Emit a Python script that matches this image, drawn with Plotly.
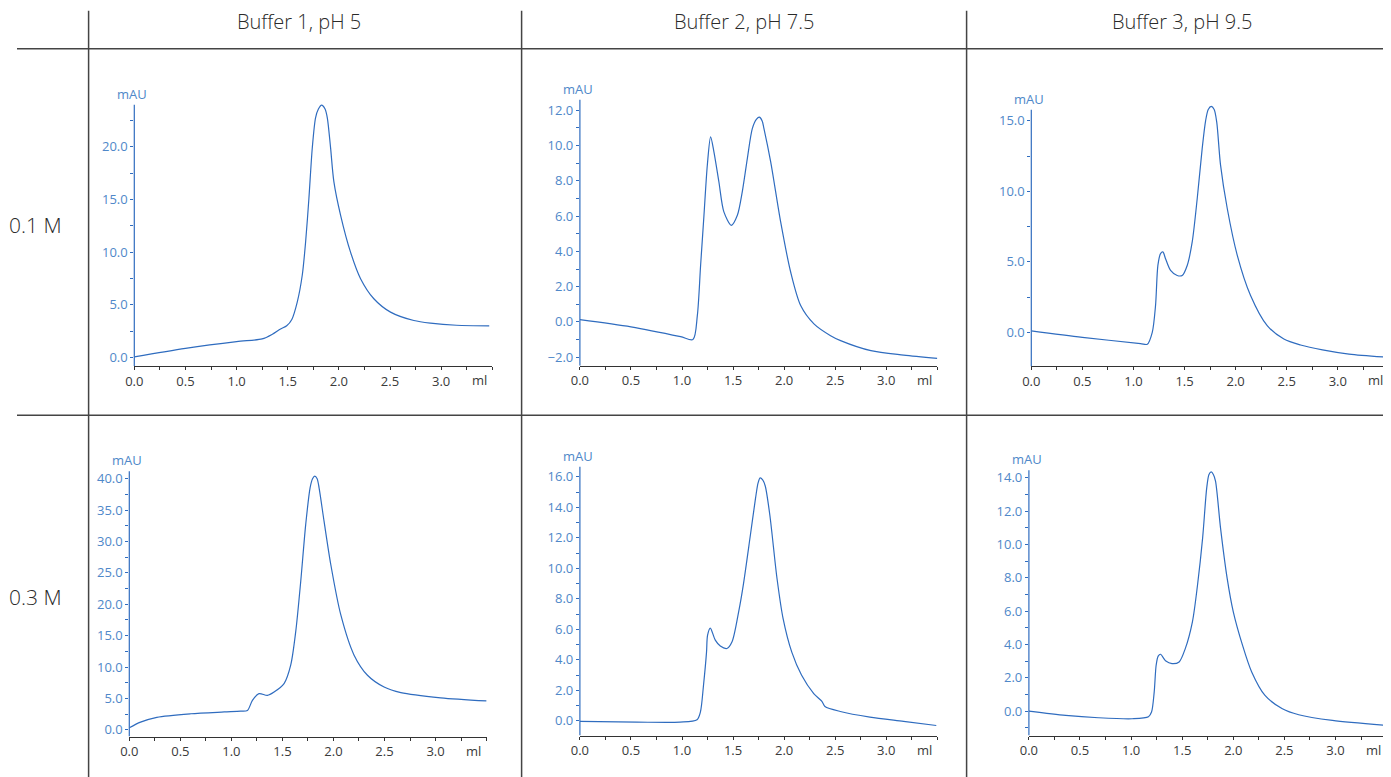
import plotly.graph_objects as go

# target window size and the measured mapping (figure px -> window px)
W, H = 1391, 777
OFFX, OFFY, SCALE = 16.4, 10.3, 0.9935
FW = int(round((W - OFFX) / SCALE))
FH = int(round((H - OFFY) / SCALE))

# ---------------- data ----------------
col_titles = ["Buffer 1, pH 5", "Buffer 2, pH 7.5", "Buffer 3, pH 9.5"]
row_titles = ["0.1 M", "0.3 M"]

# Panel 1: 0.1 M, Buffer 1 pH 5
p1_x = [0.0, 0.5, 1.0, 1.25, 1.35, 1.43, 1.49, 1.54, 1.593, 1.642, 1.675, 1.707, 1.74, 1.772, 1.80,
        1.831, 1.865, 1.887, 1.919, 1.951, 2.017, 2.114, 2.212, 2.342, 2.505, 2.733, 2.896, 3.15, 3.47]
p1_y = [0.05, 0.86, 1.5, 1.75, 2.2, 2.7, 3.0, 3.6, 5.25, 7.8, 10.98, 15.1, 19.9, 22.76, 23.6,
        23.97, 23.6, 22.76, 19.9, 16.7, 13.5, 10.0, 7.48, 5.57, 4.3, 3.5, 3.25, 3.05, 3.0]

# Panel 2: 0.1 M, Buffer 2 pH 7.5
p2_x = [0.0, 0.5, 0.986, 1.107, 1.15, 1.182, 1.215, 1.248, 1.28, 1.312, 1.361, 1.41, 1.483, 1.542,
        1.59, 1.64, 1.689, 1.73, 1.757, 1.785, 1.802, 1.868, 1.966, 2.064, 2.162, 2.292, 2.455, 2.553,
        2.85, 3.17, 3.5]
p2_y = [0.13, -0.28, -0.84, -1.0, 0.36, 3.2, 6.05, 8.9, 10.5, 9.66, 7.95, 6.24, 5.48, 6.05,
        7.38, 9.28, 10.98, 11.5, 11.61, 11.4, 10.98, 9.09, 5.67, 2.83, 0.93, -0.11, -0.78, -1.06,
        -1.63, -1.88, -2.07]

# Panel 3: 0.1 M, Buffer 3 pH 9.5
p3_x = [0.0, 0.5, 1.069, 1.135, 1.184, 1.216, 1.239, 1.265, 1.288, 1.314, 1.363, 1.428, 1.477, 1.526,
        1.575, 1.624, 1.673, 1.706, 1.732, 1.761, 1.79, 1.815, 1.852, 1.918, 2.016, 2.146, 2.309, 2.472,
        2.635, 2.85, 3.11, 3.5]
p3_y = [0.1, -0.36, -0.8, -0.85, 0.0, 1.9, 4.74, 5.58, 5.7, 5.22, 4.39, 4.03, 4.03, 4.74,
        6.41, 9.49, 13.06, 15.0, 15.8, 16.02, 15.8, 14.9, 11.87, 8.78, 5.46, 2.61, 0.47, -0.48,
        -0.9, -1.25, -1.55, -1.78]

# Panel 4: 0.3 M, Buffer 1 pH 5
p4_x = [0.0, 0.11, 0.27, 0.6, 0.93, 1.091, 1.157, 1.206, 1.271, 1.353, 1.418, 1.516, 1.581, 1.63,
        1.679, 1.728, 1.771, 1.795, 1.817, 1.84, 1.859, 1.908, 1.974, 2.072, 2.202, 2.333, 2.496, 2.66,
        3.05, 3.5]
p4_y = [0.32, 1.23, 2.0, 2.56, 2.85, 2.98, 3.09, 4.69, 5.76, 5.49, 6.02, 7.36, 10.3, 15.6,
        23.6, 32.7, 38.56, 40.0, 40.42, 40.0, 38.56, 33.2, 26.3, 18.3, 11.9, 8.7, 6.82, 5.92,
        5.1, 4.6]

# Panel 5: 0.3 M, Buffer 2 pH 7.5
p5_x = [0.0, 0.56, 0.98, 1.147, 1.18, 1.21, 1.24, 1.25, 1.277, 1.326, 1.375, 1.44, 1.49, 1.555, 1.6,
        1.67, 1.72, 1.745, 1.765, 1.79, 1.815, 1.86, 1.93, 1.99, 2.075, 2.17, 2.29, 2.37, 2.4, 2.55,
        2.84, 3.17, 3.49]
p5_y = [-0.04, -0.09, -0.09, 0.07, 0.57, 2.3, 4.5, 5.6, 6.08, 5.29, 4.9, 4.74, 5.18, 7.16, 8.9,
        12.2, 14.6, 15.6, 15.93, 15.8, 15.4, 13.5, 9.35, 6.7, 4.5, 3.0, 1.78, 1.27, 0.94, 0.61,
        0.24, -0.04, -0.31]

# Panel 6: 0.3 M, Buffer 3 pH 9.5
p6_x = [0.0, 0.36, 0.68, 1.01, 1.17, 1.2, 1.226, 1.245, 1.265, 1.288, 1.34, 1.40, 1.47, 1.53, 1.6,
        1.65, 1.7, 1.74, 1.762, 1.784, 1.805, 1.826, 1.875, 1.94, 2.0, 2.09, 2.18, 2.31, 2.48, 2.64,
        2.97, 3.5]
p6_y = [0.0, -0.26, -0.4, -0.46, -0.34, -0.06, 1.14, 2.75, 3.3, 3.41, 3.0, 2.85, 2.95, 3.75, 5.36,
        7.57, 10.4, 13.4, 14.2, 14.36, 14.2, 13.8, 11.0, 7.97, 5.96, 3.96, 2.35, 0.94, 0.14, -0.22,
        -0.56, -0.86]

# axis settings per panel: y axis extent [bottom, axis-line top], plot headroom top,
# major dtick, minor dtick
y_axis_ext = [[-0.83, 24.0], [-2.49, 12.6], [-2.42, 15.78], [-1.07, 41.2], [-0.97, 16.66], [-1.47, 14.46]]
y_plot_top = [24.4, 12.9, 16.6, 41.8, 16.9, 14.8]
y_dticks = [5, 2, 5, 5, 2, 2]
y_minor = [2.5, 1, 2.5, 2.5, 1, 1]
x_range = [0, 3.5]
x_ticks = [0.0, 0.5, 1.0, 1.5, 2.0, 2.5, 3.0]

# ---------------- layout geometry (window pixels) ----------------
# (left, right, top of axis line, bottom) of each plot area
boxes = [
    (133.7, 491.7, 106.7, 367.0),
    (579.3, 936.7, 101.7, 366.7),
    (1030.7, 1388.3, 111.7, 367.3),
    (128.7, 486.0, 471.7, 736.0),
    (579.3, 936.7, 467.3, 735.0),
    (1028.3, 1386.0, 470.7, 735.0),
]

def fx(px):
    return min(1.0, max(0.0, ((px - OFFX) / SCALE) / FW))

def fy(py):
    return min(1.0, max(0.0, 1 - ((py - OFFY) / SCALE) / FH))

LINE = "#2f6cbf"
YLAB = "#4f88c9"
XLAB = "#3a3a3a"
FONT = "Open Sans"

xs = [p1_x, p2_x, p3_x, p4_x, p5_x, p6_x]
ys = [p1_y, p2_y, p3_y, p4_y, p5_y, p6_y]

fig = go.Figure()
layout = dict(
    width=FW, height=FH,
    margin=dict(l=0, r=0, t=0, b=0),
    paper_bgcolor="white", plot_bgcolor="white",
    showlegend=False,
    font=dict(family=FONT, size=13),
)

annotations = []
shapes = []
for i in range(6):
    n = "" if i == 0 else str(i + 1)
    l, r, t, b = boxes[i]
    y0, y1 = y_axis_ext[i]
    ytop = y_plot_top[i]
    # extend the plot area upward (headroom for peaks above the axis line)
    ppu = (b - t) / (y1 - y0)
    t_plot = t - (ytop - y1) * ppu
    fig.add_trace(go.Scatter(
        x=xs[i], y=ys[i], mode="lines",
        line=dict(color=LINE, width=1.2, shape="spline", smoothing=0.8),
        xaxis="x" + n, yaxis="y" + n, hoverinfo="skip",
    ))
    layout["xaxis" + n] = dict(
        domain=[fx(l), fx(r)], anchor="y" + n, range=x_range,
        tickvals=x_ticks, ticktext=["%.1f" % v for v in x_ticks],
        showline=True, linecolor="#333333", linewidth=1,
        ticks="outside", ticklen=3, tickcolor="#333333", tickwidth=1,
        minor=dict(ticks="outside", dtick=0.25, ticklen=3, tickcolor="#333333"),
        showgrid=False, zeroline=False,
        tickfont=dict(color=XLAB, size=13, family=FONT),
    )
    layout["yaxis" + n] = dict(
        domain=[fy(b), fy(t_plot)], anchor="x" + n, range=[y0, ytop],
        tick0=0, dtick=y_dticks[i], tickformat=".1f",
        showline=False,
        ticks="outside", ticklen=3, tickcolor=LINE, tickwidth=1,
        minor=dict(ticks="outside", dtick=y_minor[i], ticklen=3, tickcolor=LINE),
        showgrid=False, zeroline=False,
        tickfont=dict(color=YLAB, size=13, family=FONT),
    )
    # y axis line, up to the axis top only
    shapes.append(dict(type="line", xref="x" + n + " domain", yref="y" + n,
                       x0=0, x1=0, y0=y0, y1=y1,
                       line=dict(color=LINE, width=1.2)))
    annotations.append(dict(
        text="mAU", xref="paper", yref="paper", x=fx(l - 2), y=fy(t - 11),
        showarrow=False, xanchor="center", yanchor="middle",
        font=dict(color=YLAB, size=13, family=FONT),
    ))
    annotations.append(dict(
        text="ml", xref="paper", yref="paper", x=fx(r - 13), y=fy(b + 14),
        showarrow=False, xanchor="center", yanchor="middle",
        font=dict(color=XLAB, size=13, family=FONT),
    ))

col_centers = [298, 743, 1181]
for c, txt in zip(col_centers, col_titles):
    annotations.append(dict(
        text=txt, xref="paper", yref="paper", x=fx(c), y=fy(23.5),
        showarrow=False, xanchor="center", yanchor="middle", borderpad=0,
        font=dict(color="#2a2a2a", size=20, family=FONT, weight=300),
    ))
row_centers = [226, 597]
for c, txt in zip(row_centers, row_titles):
    annotations.append(dict(
        text=txt, xref="paper", yref="paper", x=fx(35), y=fy(c),
        showarrow=False, xanchor="center", yanchor="middle",
        font=dict(color="#2a2a2a", size=21, family=FONT, weight=300),
    ))

GRID = "#444444"
for vx in [88, 521, 966]:
    shapes.append(dict(type="line", xref="paper", yref="paper",
                       x0=fx(vx), x1=fx(vx), y0=fy(13), y1=fy(777),
                       line=dict(color=GRID, width=1.5)))
for hy in [51, 416]:
    shapes.append(dict(type="line", xref="paper", yref="paper",
                       x0=fx(8), x1=fx(1391), y0=fy(hy), y1=fy(hy),
                       line=dict(color=GRID, width=1.5)))

layout["annotations"] = annotations
layout["shapes"] = shapes
fig.update_layout(**layout)
fig.write_html("out.html")
